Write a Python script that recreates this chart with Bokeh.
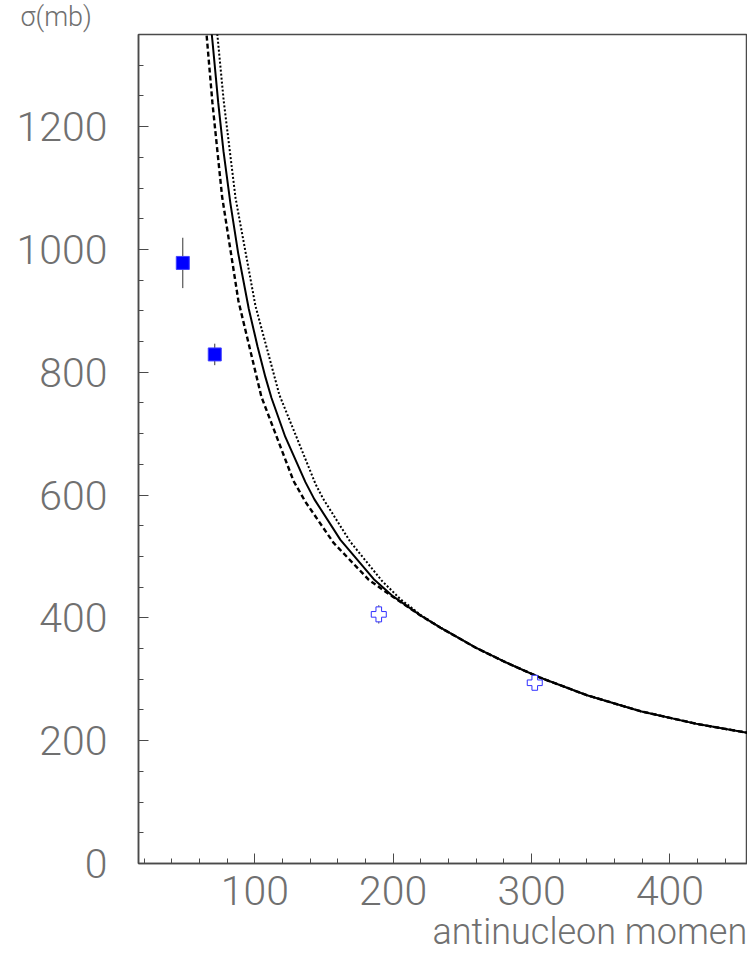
from bokeh.plotting import figure
from bokeh.models import Range1d, SingleIntervalTicker, Title, ColumnDataSource
from bokeh.embed import file_html
from bokeh.resources import INLINE

# ---- data ----
# solid curve
p_solid = [66, 69.4, 73.6, 77.4, 82.4, 88, 95.7, 102, 107.7, 112.1, 122, 136.6, 143.1,
           161.9, 186, 200, 219.7, 234.2, 260, 280, 306.4, 340, 378.7, 420, 455.8, 470]
sigma_solid = [1415, 1340, 1239, 1160, 1075, 994, 903, 842, 792, 758, 695, 621, 593,
               527, 463, 435, 404, 384, 351, 329, 302.5, 274, 248, 227, 213, 207]
# dashed curve
p_dashed = [63, 65.1, 69.4, 76.4, 88.2, 104.8, 128, 136.6, 157, 182.4, 198, 219.7,
            234.2, 260, 280, 306.4, 340, 378.7, 420, 455.8, 470]
sigma_dashed = [1400, 1352, 1239, 1086, 916, 760, 623, 589, 522, 462, 437, 404,
                384, 351, 329, 302.5, 274, 248, 227, 213, 207]
# dotted curve
p_dotted = [71, 73.0, 77.6, 86.1, 100.5, 117.8, 143.9, 149.4, 169, 192, 205, 219.7,
            234.2, 260, 280, 306.4, 340, 378.7, 420, 455.8, 470]
sigma_dotted = [1390, 1349, 1241, 1084, 908, 763, 618, 594, 524, 460, 431, 405,
                384, 351, 329, 302.5, 274, 248, 227, 213, 207]
# filled squares with errors
sq_p = [48.0, 71.1]
sq_sigma = [978, 829]
sq_err = [41, 17.5]
# open crosses with errors
cr_p = [189.6, 302.3]
cr_sigma = [405.7, 294.3]
cr_err = [15, 8]

x_title = "antinucleon momentum (MeV/c)"
y_title = "σ(mb)"

FONT = "Roboto Light, Lato Light, DejaVu Sans"
GRAY = "#707070"
AX = "#4a4a4a"

p = figure(width=747, height=967, output_backend="svg", toolbar_location=None,
           x_range=Range1d(16, 456), y_range=Range1d(0, 1350),
           min_border_left=138, min_border_right=0, min_border_top=33,
           min_border_bottom=104)
p.background_fill_color = "white"
p.border_fill_color = "white"
p.outline_line_color = AX
p.outline_line_width = 1.5
p.xgrid.visible = False
p.ygrid.visible = False

p.xaxis.ticker = SingleIntervalTicker(interval=100, num_minor_ticks=5)
p.yaxis.ticker = SingleIntervalTicker(interval=200, num_minor_ticks=4)
for ax in (p.xaxis[0], p.yaxis[0]):
    ax.axis_line_color = AX
    ax.axis_line_width = 1.5
    ax.major_tick_line_color = AX
    ax.minor_tick_line_color = AX
    ax.major_tick_in = 10
    ax.major_tick_out = 0
    ax.minor_tick_in = 5
    ax.minor_tick_out = 0
    ax.major_label_text_font = FONT
    ax.major_label_text_font_size = "41px"
    ax.major_label_text_color = GRAY
p.xaxis.major_label_standoff = 12
p.yaxis.major_label_standoff = 31

# curves
p.line(p_dotted, sigma_dotted, line_color="black", line_width=2, line_dash="2 2")
p.line(p_dashed, sigma_dashed, line_color="black", line_width=2.4, line_dash="5 3")
p.line(p_solid, sigma_solid, line_color="black", line_width=2)

# error bars
sq_src = ColumnDataSource(dict(x=sq_p, y=sq_sigma,
                               lo=[s - e for s, e in zip(sq_sigma, sq_err)],
                               hi=[s + e for s, e in zip(sq_sigma, sq_err)]))
cr_src = ColumnDataSource(dict(x=cr_p, y=cr_sigma,
                               lo=[s - e for s, e in zip(cr_sigma, cr_err)],
                               hi=[s + e for s, e in zip(cr_sigma, cr_err)]))
p.segment(x0="x", y0="lo", x1="x", y1="hi", source=sq_src, line_color="#333333", line_width=1)
p.segment(x0="x", y0="lo", x1="x", y1="hi", source=cr_src, line_color="#555555", line_width=1)

p.scatter("x", "y", source=sq_src, marker="square", size=13,
          fill_color="#0000ff", line_color="#4040ff", line_width=1)
p.scatter("x", "y", source=cr_src, marker="plus", size=15,
          fill_color="white", line_color="#3030ff", line_width=1)

# titles
p.add_layout(Title(text=x_title, align="left", offset=294, standoff=2,
                   text_font=FONT, text_font_size="36px", text_color=GRAY,
                   text_font_style="normal"), "below")
p.add_layout(Title(text=y_title, align="left", offset=-118, standoff=0,
                   vertical_align="top",
                   text_font=FONT, text_font_size="27px", text_color=GRAY,
                   text_font_style="normal"), "above")

open("out.html", "w").write(file_html(p, INLINE))
